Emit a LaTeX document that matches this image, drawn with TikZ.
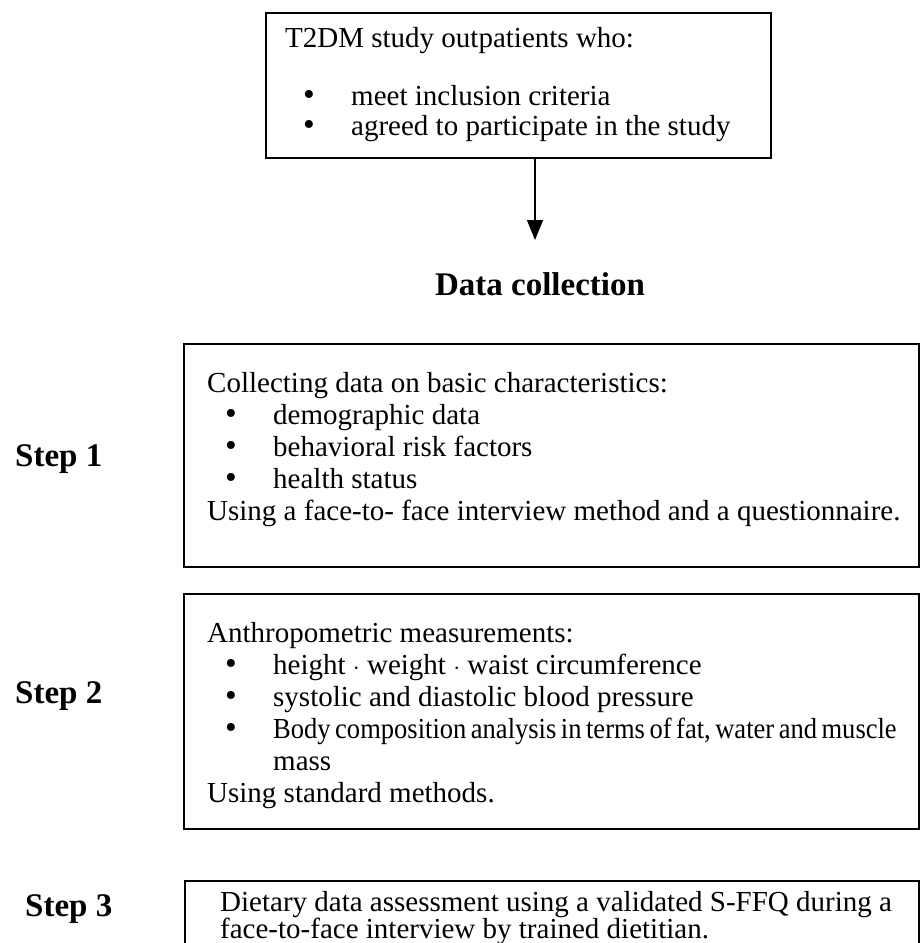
\documentclass[tikz,border=0pt]{standalone}
\usepackage{fontspec}
\setmainfont{Liberation Serif}
\usetikzlibrary{arrows.meta,positioning}

\tikzset{
  framebox/.style={draw,rectangle,line width=2.4pt,inner sep=0pt,anchor=north west},
  boxtext/.style={anchor=north west,align=left,inner sep=0pt,font=\fontsize{29}{32}\selectfont},
  steplabel/.style={anchor=base west,inner sep=0pt,font=\fontsize{33}{38}\selectfont\bfseries},
}
% bullet line: dot indented, text on a fixed tab
\newcommand{\bitem}[1]{\makebox[66pt][l]{\hspace{18pt}\raisebox{0pt}[0pt][0pt]{\scalebox{1.15}{\textbullet}}}#1}

\begin{document}
\begin{tikzpicture}[x=1pt,y=-1pt]
    \useasboundingbox (0,0) rectangle (920,943);
    \clip (0,0) rectangle (920,943);

    % who enters the study
    \node[framebox,minimum width=505pt,minimum height=145pt] (patients) at (265,12) {};
    \node[boxtext] (patientstext) at (285,27) {T2DM study outpatients who:\\[26pt]
        \bitem{meet inclusion criteria}\\[-2pt]
        \bitem{agreed to participate in the study}};

    \coordinate (arrowtip) at (535,240);
    \draw[line width=1.2pt,-{Triangle[length=20pt,width=16pt]}] (patients.south -| arrowtip) -- (arrowtip);

    \node[anchor=base,inner sep=0pt,font=\fontsize{33}{38}\selectfont\bfseries] (title) at (540,295) {Data collection};

    % step 1
    \node[framebox,minimum width=735pt,minimum height=223pt] (stepone) at (183,343) {};
    \node[boxtext] (steponetext) at (207,372) {Collecting data on basic characteristics:\\
        \bitem{demographic data}\\
        \bitem{behavioral risk factors}\\
        \bitem{health status}\\
        Using a face-to- face interview method and a questionnaire.};
    \node[steplabel] (steponelabel) at (15,466) {Step 1};

    % step 2
    \node[framebox,minimum width=735pt,minimum height=235pt] (steptwo) at (183,593) {};
    \node[boxtext] (steptwotext) at (207,622) {Anthropometric measurements:\\
        \bitem{height $\cdot$ weight $\cdot$ waist circumference}\\
        \bitem{systolic and diastolic blood pressure}\\
        \bitem{\scalebox{0.915}[1]{\spaceskip=0.17em Body composition analysis in terms of fat, water and muscle}}\\
        \hspace{66pt}mass\\
        Using standard methods.};
    \node[steplabel] (steptwolabel) at (15,703) {Step 2};

    % step 3
    \node[framebox,minimum width=734pt,minimum height=100pt] (stepthree) at (184,880) {};
    \node[boxtext] (stepthreetext) at (220,891) {Dietary data assessment using a validated S-FFQ during a\\[-5pt]
        face-to-face interview by trained dietitian.};
    \node[steplabel] (stepthreelabel) at (25,916) {Step 3};
\end{tikzpicture}
\end{document}
